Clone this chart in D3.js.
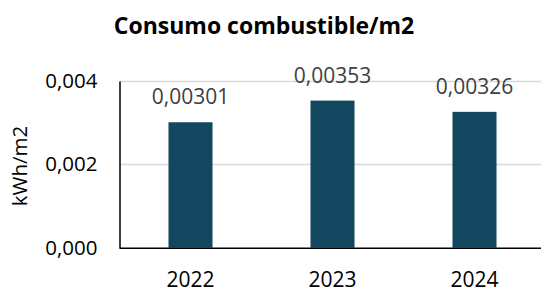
<!DOCTYPE html>
<html>
<head>
<meta charset="utf-8">
<script src="https://cdn.jsdelivr.net/npm/d3@7"></script>
<style>
  html, body { margin: 0; padding: 0; background: #fff; }
  svg { display: block; font-family: "Open Sans", sans-serif; }
</style>
</head>
<body>
<svg id="chart" width="541" height="289"></svg>
<script>
const categories = ["2022", "2023", "2024"];
const values = [0.00301, 0.00353, 0.00326];
const valueLabels = ["0,00301", "0,00353", "0,00326"];
const yTicks = [0, 0.002, 0.004];
const yTickLabels = ["0,000", "0,002", "0,004"];
const title = "Consumo combustible/m2";
const yTitle = "kWh/m2";

(function () {
const svg = d3.select("#chart");
const pLeft = 119.5, pRight = 545.5, pTop = 81, pBottom = 247.7;

const x = d3.scaleBand().domain(categories).range([pLeft, pRight])
  .paddingInner(0.69).paddingOuter(0.345);
const y = d3.scaleLinear().domain([0, 0.004]).range([pBottom, pTop]);

// gridlines
svg.append("g").selectAll("line").data(yTicks.filter(d => d > 0)).join("line")
  .attr("x1", pLeft).attr("x2", 541)
  .attr("y1", d => Math.round(y(d)) + 0.5).attr("y2", d => Math.round(y(d)) + 0.5)
  .attr("stroke", "#d9d9d9").attr("stroke-width", 1.5);

// bars
svg.append("g").selectAll("rect").data(values).join("rect")
  .attr("x", (d, i) => x(categories[i]))
  .attr("width", x.bandwidth())
  .attr("y", d => y(d))
  .attr("height", d => y(0) - y(d))
  .attr("fill", "#134760");

// value labels
svg.append("g").selectAll("text").data(values).join("text")
  .attr("x", (d, i) => x(categories[i]) + x.bandwidth() / 2)
  .attr("y", d => y(d) - 18)
  .attr("text-anchor", "middle")
  .attr("font-size", 21)
  .attr("fill", "#404040")
  .text((d, i) => valueLabels[i]);

// y axis
const yAxis = d3.axisLeft(y).tickValues(yTicks)
  .tickFormat((d, i) => yTickLabels[i]).tickSize(0).tickPadding(22);
const gy = svg.append("g").attr("transform", `translate(${pLeft},0)`).call(yAxis);
gy.select(".domain").attr("stroke", "#000").attr("stroke-width", 1.5);
gy.selectAll("text").attr("font-size", 20.5).attr("fill", "#000")
  .attr("font-family", "Open Sans, sans-serif");

// x axis
const xAxis = d3.axisBottom(x).tickSize(0).tickPadding(24);
const gx = svg.append("g").attr("transform", `translate(0,${pBottom})`).call(xAxis);
gx.select(".domain").attr("d", `M${pLeft},0.5H541`).attr("stroke", "#000").attr("stroke-width", 1.5);
gx.selectAll("text").attr("font-size", 21).attr("fill", "#000")
  .attr("font-family", "Open Sans, sans-serif");

// title
svg.append("text").attr("x", 264).attr("y", 34).attr("text-anchor", "middle")
  .attr("font-size", 23).attr("font-weight", "bold").attr("fill", "#000")
  .text(title);

// y title
svg.append("text").attr("transform", `translate(27,166) rotate(-90)`)
  .attr("text-anchor", "middle").attr("font-size", 20.5).attr("fill", "#000")
  .text(yTitle);
})();
</script>
</body>
</html>
